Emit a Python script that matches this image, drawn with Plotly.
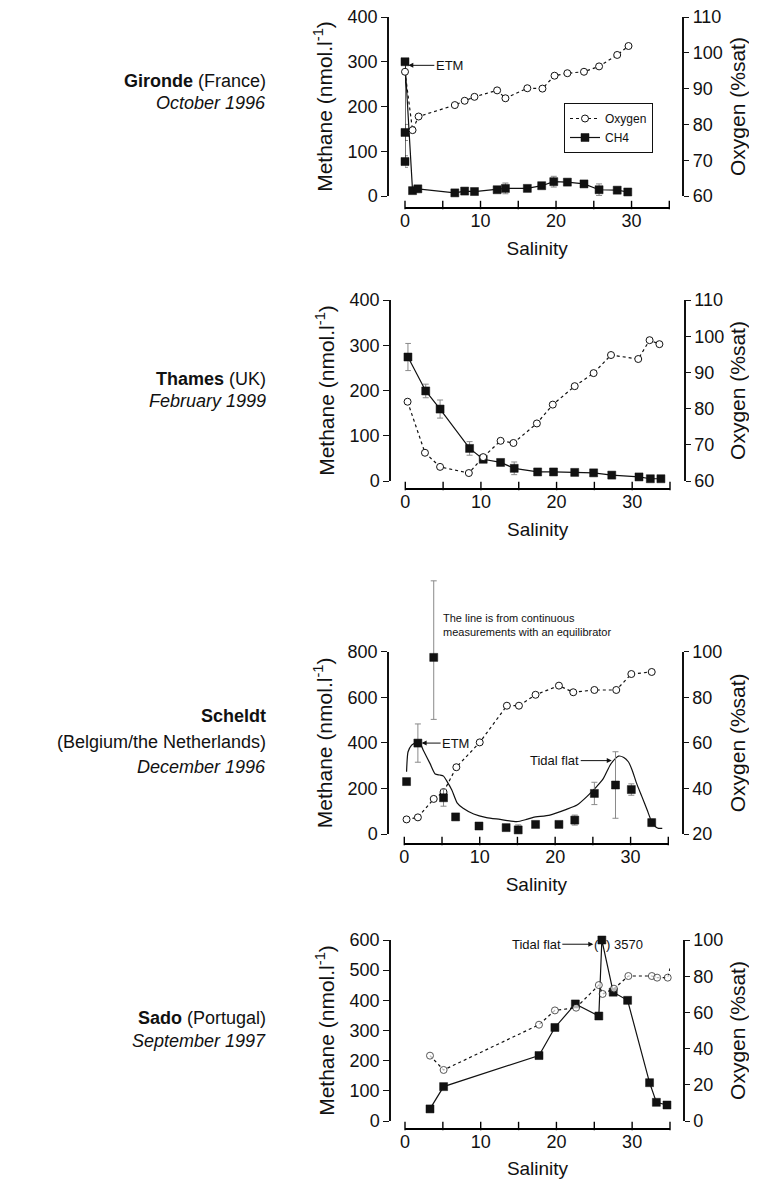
import plotly.graph_objects as go

# ---------------- data ----------------
# Gironde (France), October 1996
g_ch4_x = [0, 0, 0, 1.0, 1.7, 6.6, 7.9, 9.2, 12.2, 13.3, 16.2, 18.1, 19.7, 21.5, 23.7, 25.7, 28.1, 29.5]
g_ch4_y = [77, 142, 300, 12, 16, 7, 11, 10, 14, 17, 17, 23, 32, 31, 27, 14, 13, 9]
g_ch4_err = [13, 18, 0, 4, 3, 2, 3, 2, 5, 12, 5, 4, 12, 4, 4, 13, 3, 2]
g_o2_x = [0, 1.0, 1.8, 6.6, 7.9, 9.2, 12.2, 13.3, 16.2, 18.2, 19.8, 21.5, 23.7, 25.7, 28.1, 29.6]
g_o2_y = [94.7, 78.4, 82.2, 85.4, 86.6, 87.7, 89.5, 87.3, 90.1, 90.0, 93.6, 94.3, 94.7, 96.2, 99.4, 101.9]

# Thames (UK), February 1999
t_ch4_x = [0.35, 2.7, 4.6, 8.5, 10.3, 12.6, 14.4, 17.5, 19.6, 22.4, 24.9, 27.3, 30.9, 32.4, 33.8]
t_ch4_y = [274, 199, 159, 72, 48, 41, 28, 20, 20, 19, 18, 13, 9, 5, 5]
t_ch4_err = [30, 15, 20, 15, 6, 5, 14, 3, 3, 3, 3, 3, 3, 2, 2]
t_o2_x = [0.3, 2.6, 4.6, 8.4, 10.3, 12.6, 14.3, 17.4, 19.5, 22.4, 24.9, 27.2, 30.8, 32.3, 33.6]
t_o2_y = [81.9, 67.8, 63.9, 62.2, 66.6, 71.1, 70.5, 75.9, 81.1, 86.2, 89.8, 94.8, 93.7, 98.9, 97.8]

# Scheldt (Belgium/the Netherlands), December 1996
s_ch4_x = [0.3, 1.8, 3.9, 5.2, 6.8, 9.9, 13.5, 15.1, 17.4, 20.5, 22.6, 25.2, 28.0, 30.1, 32.8]
s_ch4_y = [230, 399, 775, 159, 75, 35, 28, 18, 42, 42, 61, 178, 215, 195, 50]
s_ch4_err_plus = [0, 84, 336, 37, 0, 0, 0, 22, 0, 0, 22, 49, 146, 25, 15]
s_ch4_err_minus = [0, 84, 272, 37, 0, 0, 0, 22, 0, 0, 22, 49, 146, 25, 15]
s_o2_x = [0.3, 1.8, 3.9, 5.2, 6.9, 10.0, 13.6, 15.2, 17.4, 20.5, 22.4, 25.2, 28.1, 30.1, 32.8]
s_o2_y = [26.4, 27.3, 35.4, 38.4, 49.3, 60.2, 76.3, 76.3, 81.1, 85.1, 82.2, 83.2, 83.2, 90.2, 91.1]
# continuous equilibrator record
s_eq_x = [0.3, 0.5, 0.97, 1.4, 1.9, 2.5, 3.4, 4.1, 4.7, 5.2, 5.6, 6.3, 7.0, 7.8, 9.2, 10.9, 12.7,
          14.9, 16.2, 17.1, 19.3, 21.5, 22.9, 24.2, 25.5, 26.4, 27.3, 28.0, 28.4, 29.1, 29.7, 30.2,
          30.8, 31.5, 32.2, 32.8, 33.3, 33.7, 34.2]
s_eq_y = [273, 361, 390, 400, 410, 369, 310, 263, 259, 254, 234, 193, 137, 113, 88, 72, 64,
          54, 64, 73, 83, 108, 127, 164, 208, 244, 303, 332, 342, 336, 317, 281,
          222, 164, 105, 54, 32, 25, 25]

# Sado (Portugal), September 1997
d_ch4_x = [3.3, 5.1, 17.7, 19.8, 22.5, 25.6, 26.0, 27.5, 29.4, 32.3, 33.2, 34.6]
d_ch4_y = [40, 114, 217, 310, 388, 348, 600, 427, 400, 127, 62, 53]
d_o2_x = [3.3, 5.1, 17.7, 19.8, 22.6, 25.6, 26.1, 27.6, 29.5, 32.6, 33.3, 34.7, 35.0]
d_o2_y = [36.1, 28.2, 53.2, 61.1, 62.6, 75.1, 70.2, 73.1, 80.1, 80.1, 79.2, 79.2, 84.3]
d_o2_marker = [7, 7, 7, 7, 7, 7, 7, 7, 7, 7, 7, 7, 0]

x_range = [0, 35]
x_labelled = [0, 10, 20, 30]
x_tickmarks = [0, 5, 10, 15, 20, 25, 30, 35]

# ---------------- layout geometry (pixels in the 757x1187 window) ----------------
PAGE = 8                      # default body margin of the html page
W, H = 757 - 2 * PAGE, 1187 - 2 * PAGE
def fx(p): return (p - PAGE) / W
def fy(p): return 1 - (p - PAGE) / H

FONT = "Liberation Sans, Arial, Helvetica, sans-serif"
INK = "#111111"
ERR = "#8a8a8a"
XTICK_LEN = 6
BAND = 10   # half height (px) of the thin strip that carries each salinity axis line

panels = [
    dict(x0=405, x1=669.3, ytop=17, ybot=196, ylx=388, xly=208, y2x=683.3,
         yr=[0, 400], ydt=100, y2r=[60, 110], y2dt=10),
    dict(x0=405.3, x1=670, ytop=300, ybot=481, ylx=390, xly=489, y2x=685,
         yr=[0, 400], ydt=100, y2r=[60, 110], y2dt=10),
    dict(x0=404.3, x1=668.3, ytop=651.7, ybot=834, ylx=388, xly=844, y2x=683,
         yr=[0, 800], ydt=200, y2r=[20, 100], y2dt=20),
    dict(x0=405, x1=670, ytop=940, ybot=1121, ylx=390, xly=1129, y2x=684,
         yr=[0, 600], ydt=100, y2r=[0, 100], y2dt=20),
]
TALL_TOP = 570  # extended (invisible) axis for Scheldt error bars that rise above the frame

fig = go.Figure()

def axnames(i):
    xa = "x" if i == 0 else f"x{i+1}"
    ya = "y" if i == 0 else f"y{2*i+1}"
    y2 = f"y{2*i+2}"
    yb = f"y{9+i}"
    return xa, ya, y2, yb

o2_style = dict(mode="lines+markers", line=dict(color=INK, width=1.2, dash="dot"),
                marker=dict(symbol="circle", size=7, color="white", line=dict(color=INK, width=1)),
                cliponaxis=False)
ch4_marker = dict(symbol="square", size=8, color=INK, line=dict(color=INK, width=0.5))

# Panel 1 Gironde
xa, ya, y2, yb = axnames(0)
fig.add_trace(go.Scatter(x=g_o2_x, y=g_o2_y, xaxis=xa, yaxis=y2, name="Oxygen", showlegend=True, **o2_style))
fig.add_trace(go.Scatter(x=g_ch4_x, y=g_ch4_y, xaxis=xa, yaxis=ya, name="CH4", mode="lines+markers",
                         line=dict(color=INK, width=1.2), marker=ch4_marker, cliponaxis=False,
                         error_y=dict(type="data", array=g_ch4_err, color=ERR, thickness=1, width=3)))

# Panel 2 Thames
xa, ya, y2, yb = axnames(1)
fig.add_trace(go.Scatter(x=t_o2_x, y=t_o2_y, xaxis=xa, yaxis=y2, name="Oxygen", showlegend=False, **o2_style))
fig.add_trace(go.Scatter(x=t_ch4_x, y=t_ch4_y, xaxis=xa, yaxis=ya, name="CH4", showlegend=False,
                         mode="lines+markers", line=dict(color=INK, width=1.2), marker=ch4_marker,
                         cliponaxis=False,
                         error_y=dict(type="data", array=t_ch4_err, color=ERR, thickness=1, width=3)))

# Panel 3 Scheldt
xa, ya, y2, yb = axnames(2)
fig.add_trace(go.Scatter(x=s_o2_x, y=s_o2_y, xaxis=xa, yaxis=y2, name="Oxygen", showlegend=False, **o2_style))
fig.add_trace(go.Scatter(x=s_eq_x, y=s_eq_y, xaxis=xa, yaxis=ya, name="CH4 equilibrator", showlegend=False,
                         mode="lines", line=dict(color=INK, width=1.2, shape="spline", smoothing=0.6)))
fig.add_trace(go.Scatter(x=s_ch4_x, y=s_ch4_y, xaxis=xa, yaxis="y13", name="CH4", showlegend=False,
                         mode="markers", marker=ch4_marker, cliponaxis=False,
                         error_y=dict(type="data", symmetric=False, array=s_ch4_err_plus,
                                      arrayminus=s_ch4_err_minus, color=ERR, thickness=1, width=3)))

# Panel 4 Sado
xa, ya, y2, yb = axnames(3)
st = dict(o2_style)
st["marker"] = dict(symbol="circle", size=d_o2_marker, color="white", line=dict(color=INK, width=1))
fig.add_trace(go.Scatter(x=d_o2_x, y=d_o2_y, xaxis=xa, yaxis=y2, name="Oxygen", showlegend=False, **st))
fig.add_trace(go.Scatter(x=d_ch4_x, y=d_ch4_y, xaxis=xa, yaxis=ya, name="CH4", showlegend=False,
                         mode="lines+markers", line=dict(color=INK, width=1.2), marker=ch4_marker,
                         cliponaxis=False))

# detached salinity axis lines with upward tick marks, drawn on a thin strip axis per panel
for i in range(4):
    xa, ya, y2, yb = axnames(i)
    fig.add_trace(go.Scatter(x=x_range, y=[0, 0], xaxis=xa, yaxis=yb, mode="lines",
                             line=dict(color="#000000", width=1.8), showlegend=False,
                             hoverinfo="skip", cliponaxis=False))
    fig.add_trace(go.Scatter(x=x_tickmarks, y=[XTICK_LEN / 2] * len(x_tickmarks), xaxis=xa, yaxis=yb,
                             mode="markers", showlegend=False, hoverinfo="skip", cliponaxis=False,
                             marker=dict(symbol="line-ns", size=XTICK_LEN,
                                         line=dict(color="#000000", width=1.4))))

tickfont = dict(family=FONT, size=18, color=INK)
xtitlefont = dict(family=FONT, size=19, color=INK)
ytitlefont = dict(family=FONT, size=21, color=INK)
layout_axes = {}
for i, p in enumerate(panels):
    xa, ya, y2, yb = axnames(i)
    xk = "xaxis" if i == 0 else f"xaxis{i+1}"
    yk = "yaxis" if i == 0 else f"yaxis{2*i+1}"
    y2k = f"yaxis{2*i+2}"
    ybk = f"yaxis{9+i}"
    ydom = [fy(p["ybot"]), fy(p["ytop"])]
    layout_axes[ybk] = dict(domain=[fy(p["xly"] + BAND), fy(p["xly"] - BAND)], range=[-BAND, BAND],
                            visible=False, anchor=xa, fixedrange=True)
    layout_axes[xk] = dict(domain=[fx(p["x0"]), fx(p["x1"])], range=x_range, anchor="free",
                           position=fy(p["xly"]), side="bottom", showline=False, ticks="",
                           tickmode="array", tickvals=x_labelled, ticklabelstandoff=0,
                           tickfont=tickfont, showgrid=False, zeroline=False, automargin=False,
                           ticklabeloverflow="allow",
                           title=dict(text="Salinity", font=xtitlefont, standoff=11))
    layout_axes[yk] = dict(domain=ydom, range=p["yr"], dtick=p["ydt"], tick0=0, anchor="free",
                           position=fx(p["ylx"]), side="left", showline=True, linecolor=INK,
                           linewidth=1.5, ticks="outside", ticklen=6, tickwidth=1.2, tickcolor=INK,
                           tickfont=tickfont, showgrid=False, zeroline=False, automargin=False,
                           ticklabeloverflow="allow",
                           title=dict(text="Methane (nmol.l<sup>-1</sup>)", font=ytitlefont, standoff=8))
    layout_axes[y2k] = dict(domain=ydom, range=p["y2r"], dtick=p["y2dt"], tick0=0, anchor="free",
                            overlaying=ya, position=fx(p["y2x"]), side="right", showline=True,
                            linecolor=INK, linewidth=1.5, ticks="outside", ticklen=5, tickwidth=1.2,
                            tickcolor=INK, tickfont=tickfont, showgrid=False, zeroline=False,
                            automargin=False, ticklabeloverflow="allow",
                            title=dict(text="Oxygen (%sat)", font=ytitlefont, standoff=15))

# tall invisible twin of the Scheldt methane axis (same scale, taller frame)
p3 = panels[2]
tall_max = p3["yr"][1] * (p3["ybot"] - TALL_TOP) / (p3["ybot"] - p3["ytop"])
layout_axes["yaxis13"] = dict(domain=[fy(p3["ybot"]), fy(TALL_TOP)], range=[0, tall_max],
                              visible=False, anchor="x3", fixedrange=True)

ann_font = dict(family=FONT, size=13, color=INK)
annotations = [
    dict(x=0.44, y=292, xref="x", yref="y", text="ETM", showarrow=True, arrowhead=2, arrowsize=1,
         arrowwidth=1, arrowcolor=INK, ax=41, ay=0, font=ann_font),
    dict(x=2.3, y=399, xref="x3", yref="y5", text="ETM", showarrow=True, arrowhead=2, arrowsize=1,
         arrowwidth=1, arrowcolor=INK, ax=34, ay=0, font=ann_font),
    dict(x=27.5, y=322, xref="x3", yref="y5", text="Tidal flat", showarrow=True, arrowhead=2,
         arrowsize=1, arrowwidth=1, arrowcolor=INK, ax=-57, ay=0, font=ann_font),
    dict(x=24.87, y=586, xref="x4", yref="y7", text="Tidal flat", showarrow=True, arrowhead=2,
         arrowsize=1, arrowwidth=1, arrowcolor=INK, ax=-57, ay=0, font=ann_font),
    dict(x=fx(596), y=fy(944), xref="paper", yref="paper", text="(", showarrow=False,
         font=ann_font, xanchor="center", yanchor="middle"),
    dict(x=fx(604), y=fy(944), xref="paper", yref="paper", text=") 3570", showarrow=False,
         font=ann_font, xanchor="left", yanchor="middle"),
    dict(x=fx(441), y=fy(625), xref="paper", yref="paper",
         text="The line is from continuous<br>measurements with an equilibrator", showarrow=False,
         align="left", xanchor="left", yanchor="middle",
         font=dict(family=FONT, size=11, color=INK)),
]

lab_font = dict(family=FONT, size=18, color=INK)
left_labels = [
    (81, "<b>Gironde</b> (France)"), (103, "<i>October 1996</i>"),
    (379, "<b>Thames</b> (UK)"), (401, "<i>February 1999</i>"),
    (716, "<b>Scheldt</b>"), (742, "(Belgium/the Netherlands)"), (767, "<i>December 1996</i>"),
    (1018, "<b>Sado</b> (Portugal)"), (1041, "<i>September 1997</i>"),
]
for yy, txt in left_labels:
    annotations.append(dict(x=fx(268), y=fy(yy), xref="paper", yref="paper", text=txt,
                            showarrow=False, xanchor="right", yanchor="middle", font=lab_font))

fig.update_layout(
    width=W, height=H, margin=dict(l=0, r=0, t=0, b=0),
    paper_bgcolor="white", plot_bgcolor="rgba(0,0,0,0)",
    font=dict(family=FONT, color=INK),
    showlegend=True,
    legend=dict(x=fx(564), y=fy(103), xanchor="left", yanchor="top", bgcolor="white",
                bordercolor=INK, borderwidth=1, font=dict(family=FONT, size=12, color=INK),
                itemwidth=30, tracegroupgap=0),
    annotations=annotations,
    **layout_axes,
)

fig.write_html("out.html")
